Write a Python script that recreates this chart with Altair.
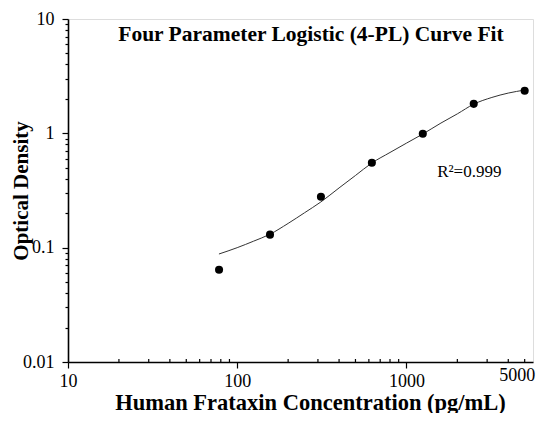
import altair as alt
import pandas as pd

# Standard points
conc = [78.125, 156.25, 312.5, 625, 1250, 2500, 5000]
od = [0.064, 0.130, 0.279, 0.553, 0.993, 1.81, 2.36]

# Fitted curve
curve_x = [78, 100, 125, 156, 200, 250, 312, 400, 500, 625, 800, 1000, 1250, 1600, 2000, 2500, 3200, 4000, 5000]
curve_y = [0.088, 0.100, 0.114, 0.131, 0.163, 0.202, 0.251, 0.333, 0.428, 0.55, 0.68, 0.82, 0.986, 1.23, 1.48, 1.8, 2.06, 2.25, 2.39]

x_labels = [10, 100, 1000, 5000]
x_minor = [20, 30, 40, 50, 60, 70, 80, 90, 200, 300, 400, 500, 600, 700, 800, 900, 2000, 3000, 4000, 5000]
y_ticks = [m * 10 ** e for e in (-2, -1, 0) for m in range(1, 10)] + [10]
y_ticks = [round(v, 4) for v in y_ticks]

title_text = "Four Parameter Logistic (4-PL) Curve Fit"
r2_text = "R²=0.999"
x_title = "Human Frataxin Concentration (pg/mL)"
y_title = "Optical Density"

FONT = "Liberation Serif"
W, H = 465, 343

pts = pd.DataFrame({"x": conc, "y": od})
crv = pd.DataFrame({"x": curve_x, "y": curve_y})
minor = pd.DataFrame({"x": x_minor})

xscale = alt.Scale(type="log", domain=[10, 5600], nice=False)
yscale = alt.Scale(type="log", domain=[0.01, 10], nice=False)

is_major_y = "abs(log(datum.value)/LN10 - round(log(datum.value)/LN10)) < 0.000001"

xaxis = alt.Axis(
    values=x_labels, format="d", title=x_title, labelFlush=False,
    tickSize={"condition": {"test": "datum.value == 5000", "value": 0}, "value": 6},
    labelOffset={"condition": {"test": "datum.value == 5000", "value": -8}, "value": 0},
    tickColor="black", tickWidth=1.2, domainColor="black", domainWidth=1.6,
    labelFont=FONT, labelFontSize=18, labelColor="black", labelPadding=4,
    titleFont=FONT, titleFontSize=22.5, titleFontWeight="bold", titleColor="black",
    titleX=242, titleY=47, titleBaseline="alphabetic", titleAlign="center", grid=False,
)
yaxis = alt.Axis(
    values=y_ticks,
    labelExpr="(" + is_major_y + ") ? format(datum.value, '~g') : ''",
    tickSize={"condition": {"test": is_major_y, "value": 6}, "value": 3},
    tickColor="black", tickWidth=1.2, domainColor="black", domainWidth=1.6,
    labelFont=FONT, labelFontSize=18, labelColor="black", labelPadding=8,
    titleFont=FONT, titleFontSize=21, titleFontWeight="bold", titleColor="black",
    title=y_title, titleX=-41, titleY=H / 2, titleAngle=270, titleBaseline="alphabetic",
    titleAlign="center", grid=False,
)

line = alt.Chart(crv).mark_line(color="#333333", strokeWidth=1, interpolate="monotone").encode(
    x=alt.X("x:Q", scale=xscale, axis=xaxis),
    y=alt.Y("y:Q", scale=yscale, axis=yaxis),
)

dots = alt.Chart(pts).mark_point(filled=True, color="black", size=65, opacity=1).encode(
    x=alt.X("x:Q", scale=xscale),
    y=alt.Y("y:Q", scale=yscale),
)

minor_ticks = alt.Chart(minor).mark_rule(color="black", strokeWidth=1.2).encode(
    x=alt.X("x:Q", scale=xscale),
    y=alt.value(H),
    y2=alt.value(H - 3),
)

title = alt.Chart(pd.DataFrame({"t": [title_text]})).mark_text(
    font=FONT, fontSize=21.5, fontWeight="bold", color="black", align="center", baseline="alphabetic"
).encode(text="t:N", x=alt.value(243), y=alt.value(22))

r2 = alt.Chart(pd.DataFrame({"t": [r2_text], "x": [1520], "y": [0.46]})).mark_text(
    font=FONT, fontSize=17, color="black", align="left", baseline="middle"
).encode(text="t:N", x=alt.X("x:Q", scale=xscale), y=alt.Y("y:Q", scale=yscale))

chart = alt.layer(line, dots, minor_ticks, title, r2).properties(
    width=W, height=H,
    autosize=alt.AutoSizeParams(type="none"),
    padding={"left": 60, "top": 11, "right": 3, "bottom": 51},
).configure_view(stroke=None).configure(background="white")

chart.save("out.html", embed_options={"renderer": "svg", "actions": False})
